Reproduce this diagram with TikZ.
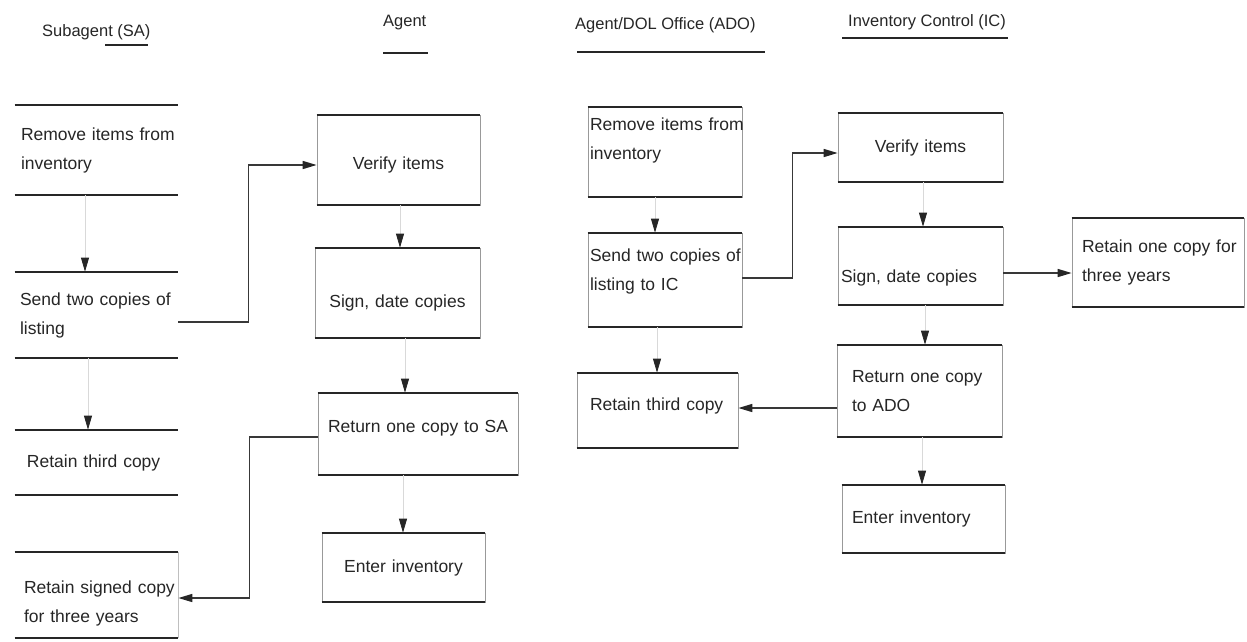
\documentclass[tikz,border=0pt]{standalone}
\usepackage{fontspec}
\setmainfont{Liberation Sans}
\usetikzlibrary{arrows.meta}
\newcommand\padtop[1]{\rule{0pt}{#1pt}}
\newcommand\padbot[1]{\rule[-#1pt]{0pt}{#1pt}}
\newcommand\lin[1]{\mbox{#1}}
\begin{document}
\begin{tikzpicture}[x=1pt,y=-1pt,
  font=\fontsize{17.5}{29}\selectfont,
  box/.style={rectangle, draw=black!40, line width=0.7pt, text=black!85, inner ysep=0pt, align=left},
  sabox/.style={box, draw=none},
  edge/.style={draw=black!85, line width=1.8pt},
  conn/.style={draw=black!78, line width=1.5pt, -{Triangle[length=14pt,width=8pt,color=black!85]}},
  varrow/.style={draw=black!15, line width=0.8pt, -{Triangle[length=14pt,width=8pt,color=black!85]}},
  hdr/.style={text=black!85, inner sep=0pt, font=\fontsize{16.5}{20}\selectfont},
  uline/.style={draw=black!85, line width=1.6pt}
]
\useasboundingbox (0,0) rectangle (1247,641);

% headers
\node[hdr, anchor=west] (hsa)  at (42,32)  {Subagent (SA)};
\node[hdr, anchor=west] (hag)  at (383,23) {Agent};
\node[hdr, anchor=west] (hado) at (575,25) {Agent/DOL Office (ADO)};
\node[hdr, anchor=west] (hic)  at (848,22) {Inventory Control (IC)};
\draw[uline] (105,45) -- (148,45);
\draw[uline] (383,53) -- (428,53);
\draw[uline] (577,52) -- (765,52);
\draw[uline] (842,38) -- (1008,38);

% Subagent column
\node[sabox, minimum width=163, minimum height=90, text width=151, inner xsep=6] (sa1) at (96.5,150) {\lin{Remove items from}\\\lin{inventory}};
\node[sabox, minimum width=163, minimum height=86, text width=153, inner xsep=5] (sa2) at (96.5,315) {\lin{Send two copies of}\\\lin{listing}};
\node[sabox, minimum width=163, minimum height=65, text width=139, inner xsep=12] (sa3) at (96.5,462.5) {\lin{Retain third copy}};
\node[sabox, minimum width=163, minimum height=86, text width=145, inner xsep=9] (sa4) at (96.5,595) {\padtop{29}\lin{Retain signed copy}\\\lin{for three years}};
\draw[draw=black!25, line width=0.7pt] (sa4.north east) -- (sa4.south east);

% Agent column
\node[box, minimum width=163, minimum height=90, text width=163, inner xsep=0, align=center] (ag1) at (398.5,160) {\padtop{22.5}Verify items};
\node[box, minimum width=165, minimum height=90, text width=165, inner xsep=0, align=center] (ag2) at (397.5,293) {\padtop{32.5}Sign, date copies};
\node[box, minimum width=200, minimum height=82, text width=200, inner xsep=0, align=center] (ag3) at (418,434) {Return one copy to SA\padbot{15.6}};
\node[box, minimum width=163, minimum height=69, text width=163, inner xsep=0, align=center] (ag4) at (403.5,567.5) {Enter inventory};

% ADO column
\node[box, minimum width=154, minimum height=90, text width=150, inner xsep=2] (ad1) at (665,152) {\lin{Remove items from}\\\lin{inventory}\padbot{27.6}};
\node[box, minimum width=154, minimum height=94, text width=150, inner xsep=2] (ad2) at (665,280) {\lin{Send two copies of}\\\lin{listing to IC}\padbot{21.6}};
\node[box, minimum width=161, minimum height=75, text width=135, inner xsep=13] (ad3) at (657.5,410.5) {\lin{Retain third copy}\padbot{13.6}};

% IC column
\node[box, minimum width=165, minimum height=69, text width=165, inner xsep=0, align=center] (ic1) at (920.5,147.5) {Verify items};
\node[box, minimum width=165, minimum height=78, text width=159, inner xsep=3] (ic2) at (920.5,266) {\padtop{36.5}\lin{Sign, date copies}};
\node[box, minimum width=172, minimum height=89, text width=152, inner xsep=10] (ic3) at (1158,262.5) {\lin{Retain one copy for}\\\lin{three years}};
\node[box, minimum width=165, minimum height=92, text width=135, inner xsep=15] (ic4) at (919.5,391) {\lin{Return one copy}\\\lin{to ADO}};
\node[box, minimum width=163, minimum height=68, text width=143, inner xsep=10] (ic5) at (923.5,519) {\lin{Enter inventory}};

% heavy top and bottom edges
\foreach \n in {sa1,sa2,sa3,sa4,ag1,ag2,ag3,ag4,ad1,ad2,ad3,ic1,ic2,ic3,ic4,ic5}
  \draw[edge] (\n.north west) -- (\n.north east) (\n.south west) -- (\n.south east);

% vertical flow arrows
\draw[varrow] ([xshift=-11.5]sa1.south) -- ([xshift=-11.5]sa1.south |- sa2.north);
\draw[varrow] ([xshift=-8.5]sa2.south) -- ([xshift=-8.5]sa2.south |- sa3.north);
\draw[varrow] ([xshift=1.5]ag1.south) -- ([xshift=1.5]ag1.south |- ag2.north);
\draw[varrow] ([xshift=7.5]ag2.south) -- ([xshift=7.5]ag2.south |- ag3.north);
\draw[varrow] ([xshift=-15]ag3.south) -- ([xshift=-15]ag3.south |- ag4.north);
\draw[varrow] ([xshift=-10]ad1.south) -- ([xshift=-10]ad1.south |- ad2.north);
\draw[varrow] ([xshift=-8]ad2.south) -- ([xshift=-8]ad2.south |- ad3.north);
\draw[varrow] ([xshift=2.5]ic1.south) -- ([xshift=2.5]ic1.south |- ic2.north);
\draw[varrow] ([xshift=4.5]ic2.south) -- ([xshift=4.5]ic2.south |- ic4.north);
\draw[varrow] ([xshift=2.5]ic4.south) -- ([xshift=2.5]ic4.south |- ic5.north);

% connectors
\draw[conn] ([yshift=-7]sa2.east) -- ++(70,0) |- ([yshift=-5]ag1.west);
\draw[conn] ([yshift=-3]ag3.west) -- ++(-68,0) |- ([yshift=-3]sa4.east);
\draw[conn] ([yshift=2]ad2.east) -- ++(50,0) |- ([yshift=-5.5]ic1.west);
\draw[conn] ([yshift=-7]ic2.east) -- ([yshift=-7]ic2.east -| ic3.west);
\draw[conn] ([yshift=-17]ic4.west) -- ([yshift=-17]ic4.west -| ad3.east);
\end{tikzpicture}
\end{document}
